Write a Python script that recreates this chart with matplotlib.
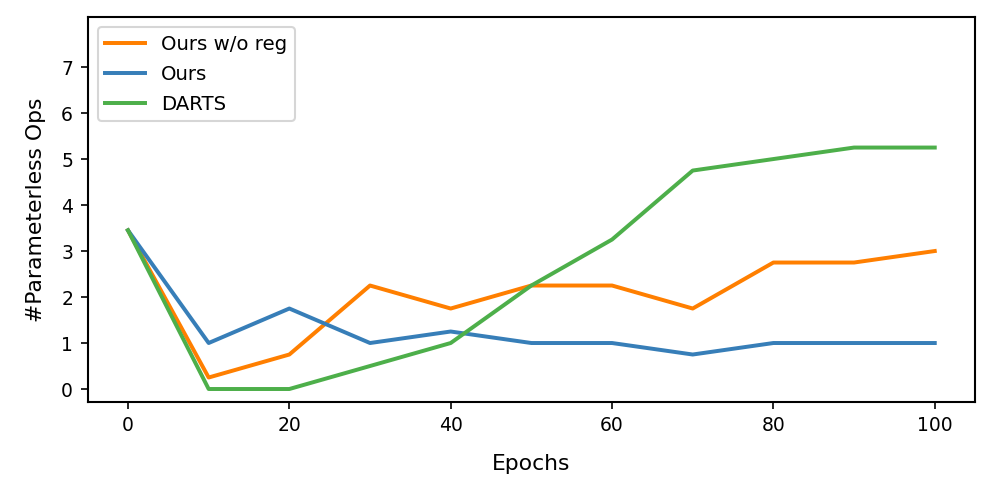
import matplotlib
matplotlib.use("Agg")
import matplotlib.pyplot as plt

epochs = [0, 10, 20, 30, 40, 50, 60, 70, 80, 90, 100]
ours_wo_reg = [3.45, 0.25, 0.75, 2.25, 1.75, 2.25, 2.25, 1.75, 2.75, 2.75, 3.0]
ours = [3.45, 1.0, 1.75, 1.0, 1.25, 1.0, 1.0, 0.75, 1.0, 1.0, 1.0]
darts = [3.45, 0.0, 0.0, 0.5, 1.0, 2.25, 3.25, 4.75, 5.0, 5.25, 5.25]

plt.rcParams['font.size'] = 9
plt.rcParams['axes.linewidth'] = 1.0

fig, ax = plt.subplots(figsize=(6.64, 3.32), dpi=150)
ax.plot(epochs, ours_wo_reg, color='#ff7f00', lw=1.9, label='Ours w/o reg')
ax.plot(epochs, ours, color='#377eb8', lw=1.9, label='Ours')
ax.plot(epochs, darts, color='#4daf4a', lw=1.9, label='DARTS')
ax.set_ylim(-0.28, 8.09)
ax.set_yticks(range(0, 8))
ax.set_xticks(range(0, 101, 20))
ax.set_xlabel('Epochs', fontsize=10.5, labelpad=9)
ax.set_ylabel('#Parameterless Ops', fontsize=10.5, labelpad=7)
ax.legend(loc='upper left', fontsize=9.5, labelspacing=0.55)
fig.subplots_adjust(left=0.088, right=0.979, top=0.966, bottom=0.193)
fig.savefig('out.png', dpi=150)
